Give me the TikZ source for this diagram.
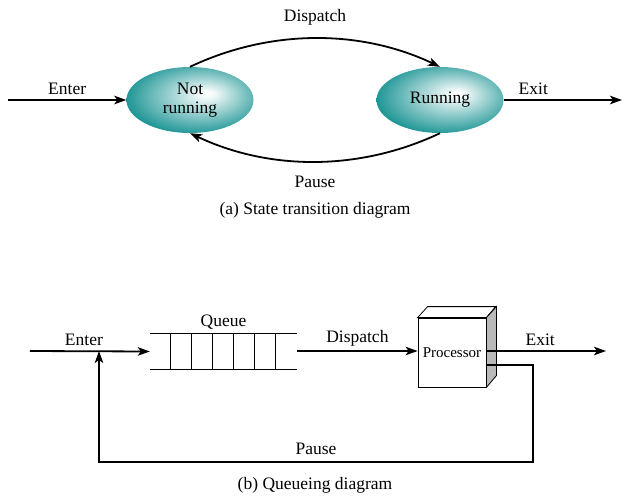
\documentclass[tikz,border=0pt]{standalone}
\usepackage{fontspec}
\setmainfont{Liberation Serif}
\usetikzlibrary{arrows.meta,positioning,calc,shapes.geometric}

\definecolor{tealc}{RGB}{0,135,135}
\pgfdeclareradialshading{tealball}{\pgfpoint{7bp}{5bp}}{%
  color(0bp)=(white); color(3bp)=(white!95!tealc); color(32bp)=(tealc); color(50bp)=(tealc)}

\begin{document}
\begin{tikzpicture}[
    x=1pt, y=-1pt,
    >={Stealth[length=12pt,width=8.5pt,inset=3pt]},
    font=\fontsize{17.5}{19}\selectfont,
    flow/.style={->, line width=1.8pt},
    state/.style={ellipse, shading=tealball, minimum width=127pt, minimum height=66pt,
                  inner sep=0pt, align=center},
    queuebox/.style={minimum width=147pt, minimum height=35pt, inner sep=0pt},
    procbox/.style={draw, fill=white, line width=0.8pt, minimum width=68pt,
                    minimum height=69pt, inner sep=0pt, font=\fontsize{15}{17}\selectfont},
]
\useasboundingbox (0,0) rectangle (634,498);

% (a) state transition diagram
\node[state] (notrun) at (190,100) {Not\\running};
\node[state] (run) at (440,100) {Running};
\coordinate (in1) at (8,100);
\coordinate (out1) at (622,100);

\draw[flow] (in1) -- node[above=1pt] {Enter} (notrun);
\draw[flow] (run) -- node[above=1pt, pos=0.25] {Exit} (out1);
\draw[flow] (notrun.north) .. controls (270,29) and (360,29) .. (run.north);
\draw[flow] (run.south) .. controls (360,171) and (270,171) .. (notrun.south);

\node at (315,17) {Dispatch};
\node at (315,182) {Pause};
\node at (315,210) {(a) State transition diagram};

% (b) queueing diagram
\node[queuebox] (queue) at (223.5,351.5) {};
\draw[line width=0.9pt] (queue.north west) -- (queue.north east);
\draw[line width=0.9pt] (queue.south west) -- (queue.south east);
\foreach \i in {1,...,6}
  \draw[line width=0.9pt] ($(queue.north west)+(21*\i,0)$) -- ($(queue.south west)+(21*\i,0)$);
\node[above=1pt of queue] {Queue};

\node[procbox] (proc) at (452,352.5) {Processor};
\draw[line width=0.8pt, fill=white] (proc.north west) -- ++(10,-11) -- ++(68,0)
  -- (proc.north east) -- cycle;
\draw[line width=0.8pt, fill=gray!55] (proc.north east) -- ++(10,-11) -- ++(0,69)
  -- (proc.south east) -- cycle;

\coordinate (in2) at (30,351);
\coordinate (out2) at (606,351);
\coordinate (back) at (99,351);
\coordinate (ret) at (486,365);

\draw[flow] (in2) -- node[above=1pt, pos=0.45] {Enter} (queue.west);
\draw[flow] (queue.east |- in2) -- node[above=1pt] {Dispatch} (proc.west |- in2);
\draw[flow] (proc.east |- in2) -- node[above=1pt, pos=0.45] {Exit} (out2);
\draw[flow] (ret) -- ++(47,0) -- ++(0,97) -- node[above=3pt] {Pause} (back |- 0,462) -- (back);

\node at (315,485) {(b) Queueing diagram};
\end{tikzpicture}
\end{document}
